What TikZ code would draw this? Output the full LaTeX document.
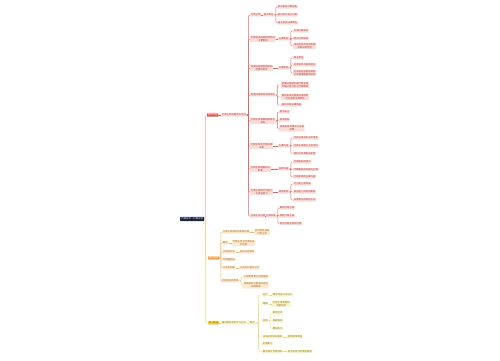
\documentclass[tikz,border=0pt]{standalone}
\usepackage{fontspec}
\newfontfamily\cjk{Noto Sans CJK SC}
\definecolor{mmroot}{HTML}{1B2440}
\definecolor{mmred}{HTML}{E2514A}
\definecolor{mmredfill}{HTML}{FADCD9}
\definecolor{mmredtext}{HTML}{B23B35}
\definecolor{mmredline}{HTML}{E0645C}
\definecolor{mmtrunk}{HTML}{EBA9A6}
\definecolor{mmorange}{HTML}{F2A03D}
\definecolor{mmorangefill}{HTML}{FCEACF}
\definecolor{mmorangetext}{HTML}{A86A1F}
\definecolor{mmyellow}{HTML}{F5D23A}
\definecolor{mmyellowfill}{HTML}{FCF4CC}
\definecolor{mmyellowtext}{HTML}{8A7A1A}
\definecolor{mmyellowline}{HTML}{F2D675}
\tikzset{
  box/.style={rectangle, rounded corners=0.4pt, inner xsep=0.7pt, inner ysep=0.6pt,
    font=\cjk\fontsize{2.4}{2.9}\selectfont, align=center, anchor=west},
  rootbox/.style={box, fill=mmroot, text=white, inner xsep=1.2pt, inner ysep=0.9pt},
  rhead/.style={box, fill=mmred, text=white},
  ohead/.style={box, fill=mmorange, text=white},
  yhead/.style={box, fill=mmyellow, text=mmyellowtext!60!black},
  rbox/.style={box, fill=mmredfill, text=mmredtext},
  obox/.style={box, fill=mmorangefill, text=mmorangetext},
  ybox/.style={box, fill=mmyellowfill, text=mmyellowtext},
  trunkline/.style={draw=mmtrunk, line width=0.5pt, rounded corners=1pt},
  rline/.style={draw=mmredline, line width=0.4pt, rounded corners=1pt},
  oline/.style={draw=mmorange!80, line width=0.4pt, rounded corners=1pt},
  yline/.style={draw=mmyellowline, line width=0.4pt, rounded corners=1pt}
}
\begin{document}
\begin{tikzpicture}[x=1pt, y=-1pt]
  \useasboundingbox (0,0) rectangle (500,360);
  % root and main branches
  \node[rootbox] (root) at (180,219) {行政法学·行政主体};
  \node[rhead] (b1) at (207,115) {基本内容};
  \node[ohead] (b2) at (208,258) {相关制度};
  \node[yhead] (b3) at (208,323) {学习方法};
  \draw[trunkline] (root.east) -- ++(1.2,0) |- (b1.west);
  \draw[yline, line width=0.5pt] (root.east) -- ++(1.2,0) |- (b2.west);
  \draw[yline, line width=0.5pt] (root.east) -- ++(1.2,0) |- (b3.west);

  % first branch
  \node[rbox] (l1) at (221,115) {行政主体的概念与地位};
  \draw[rline] (b1) -- (l1);

  \node[rbox] (n1) at (250,15) {行政主体};
  \node[rbox] (n1s) at (263,15) {基本特征};
  \node[rbox] (n1a) at (277,7) {依法享有行政职权};
  \node[rbox] (n1b) at (277,15) {能以自己名义行使};
  \node[rbox] (n1c) at (277,23) {独立承担法律责任};

  \node[rbox] (n2) at (250,39) {行政机关的组织结构与\\主要职能};
  \node[rbox] (n2s) at (278,39) {主要类型};
  \node[rbox] (n2a) at (293,31) {中央行政机关};
  \node[rbox] (n2b) at (293,38.5) {地方行政机关};
  \node[rbox] (n2c) at (293,46) {派出机关与派出机构\\及其法律地位};

  \node[rbox] (n3) at (250,68) {法律法规授权组织的\\范围与条件};
  \node[rbox] (n3s) at (278,68) {主要类型};
  \node[rbox] (n3a) at (293,58) {事业单位};
  \node[rbox] (n3b) at (293,65) {社会团体与基层组织};
  \node[rbox] (n3c) at (293,73) {企业组织及其他具有\\公共管理职能的组织};

  \node[rbox] (n4) at (250,95) {受委托组织的法律地位};
  \node[rbox] (n4a) at (281,85) {受委托组织不是行政主体\\不能以自己名义行使职权};
  \node[rbox] (n4b) at (281,97) {委托机关对受委托组织的\\行为承担法律责任};
  \node[rbox] (n4c) at (281,105) {委托须有法律依据};

  \node[rbox] (n5) at (250,121) {行政主体资格的取得与\\丧失};
  \node[rbox] (n5a) at (279,112) {依法设立};
  \node[rbox] (n5b) at (279,120) {依法授权};
  \node[rbox] (n5c) at (279,128.5) {资格丧失的情形与法律\\后果};

  \node[rbox] (n6) at (250,146) {行政主体与行政法律\\关系};
  \node[rbox] (n6s) at (278,146) {主要内容};
  \node[rbox] (n6a) at (293,138) {行政法律关系主体恒定};
  \node[rbox] (n6b) at (293,146) {行政主体居于主导地位};
  \node[rbox] (n6c) at (293,153.5) {权利义务具有法定性};

  \node[rbox] (n7) at (250,169) {行政主体的职权与\\职责};
  \node[rbox] (n7s) at (278,169) {具体内容};
  \node[rbox] (n7a) at (293,162) {行政职权的特点};
  \node[rbox] (n7b) at (293,169.5) {行政职权的内容与分类};
  \node[rbox] (n7c) at (293,177) {行政职责的主要内容};

  \node[rbox] (n8) at (250,192) {行政主体的行为能力\\与责任能力};
  \node[rbox] (n8s) at (278,192) {具体表现};
  \node[rbox] (n8a) at (293,184) {行为能力的构成};
  \node[rbox] (n8b) at (293,192) {责任能力的构成要件};
  \node[rbox] (n8c) at (293,200) {法律责任的承担方式};

  \node[rbox] (n9) at (250,216) {行政主体分类};
  \node[rbox] (n9s) at (265,216) {分类标准};
  \node[rbox] (n9a) at (279,208) {职权行政主体};
  \node[rbox] (n9b) at (279,216) {授权行政主体};
  \node[rbox] (n9c) at (279,223.5) {地方行政主体的分类};

  \foreach \c in {n1,n2,n3,n4,n5,n6,n7,n8,n9}
    \draw[rline, line width=0.5pt] (l1.east) -- ++(1.8,0) |- (\c.west);
  \foreach \p in {n1,n2,n3,n6,n7,n8,n9}
    \draw[rline] (\p) -- (\p s);
  \foreach \p/\q in {n1s/n1,n2s/n2,n3s/n3,n6s/n6,n7s/n7,n8s/n8,n9s/n9,n4/n4,n5/n5}
    \foreach \c in {a,b,c}
      \draw[rline] (\p.east) -- ++(1.5,0) |- (\q\c.west);

  % second branch
  \node[obox] (o1) at (222,232) {行政主体理论的发展历程};
  \node[obox] (o1s) at (254,232) {从行政机关到\\行政主体};
  \node[obox] (o2) at (222,243) {概念};
  \node[obox] (o2s) at (232,243) {行政主体与行政机关\\的区别};
  \node[obox] (o3) at (222,252) {行政组织法};
  \node[obox] (o3s) at (239,252) {组织法定原则};
  \node[obox] (o4) at (222,259.5) {行政编制法};
  \node[obox] (o5) at (222,268) {公务员制度};
  \node[obox] (o5s) at (239,268) {公务员的权利义务};
  \node[obox] (o6) at (221,281) {行政组织的改革};
  \node[obox] (o6a) at (243,277) {大部制改革与机构精简};
  \node[obox] (o6b) at (243,285.5) {简政放权与职能转变的\\实践探索};

  \foreach \c in {o1,o2,o3,o4,o5,o6}
    \draw[oline] (b2.east) -- ++(1.5,0) |- (\c.west);
  \foreach \p in {o1,o2,o3,o5}
    \draw[oline] (\p) -- (\p s);
  \foreach \c in {o6a,o6b}
    \draw[oline] (o6.east) -- ++(1.5,0) |- (\c.west);

  % third branch
  \node[ybox] (y1) at (221,323) {理论联系实际学习方法};
  \node[ybox] (y1s) at (249,323) {要点};
  \node[ybox] (c1) at (262,295) {记忆};
  \node[ybox] (c1s) at (272,295) {概念特征对比记忆};
  \node[ybox] (c2) at (262,304) {理解};
  \node[ybox] (c2s) at (272,304) {行政主体资格的\\判断标准};
  \node[ybox] (c3) at (262,321) {应用};
  \node[ybox] (c3a) at (272,313) {案例分析};
  \node[ybox] (c3b) at (272,321) {真题演练};
  \node[ybox] (c3c) at (272,328.5) {模拟练习};
  \node[ybox] (c4) at (262,337) {归纳总结知识框架};
  \node[ybox] (c4s) at (287,337) {绘制思维导图};
  \node[ybox] (c5) at (262,344) {定期复习};
  \node[ybox] (c6) at (262,351.5) {重点难点专项突破};
  \node[ybox] (c6s) at (287,351.5) {结合法条分析典型案例};

  \draw[yline] (b3) -- (y1);
  \draw[yline] (y1) -- (y1s);
  \foreach \c in {c1,c2,c3,c4,c5,c6}
    \draw[yline] (y1s.east) -- ++(3,0) |- (\c.west);
  \foreach \p in {c1,c2,c4,c6}
    \draw[yline] (\p) -- (\p s);
  \foreach \c in {c3a,c3b,c3c}
    \draw[yline] (c3.east) -- ++(1.5,0) |- (\c.west);
\end{tikzpicture}
\end{document}
